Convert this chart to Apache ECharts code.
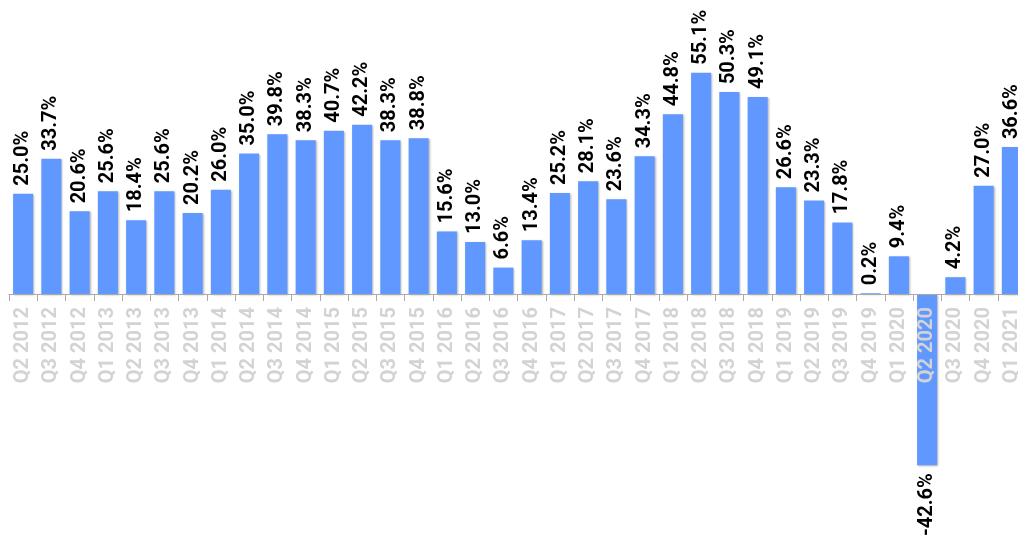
<!DOCTYPE html>
<html><head><meta charset="utf-8">
<script src="https://cdn.jsdelivr.net/npm/echarts@6/dist/echarts.min.js"></script>
<style>html,body{margin:0;padding:0;background:#fff}#c{width:1018px;height:537px}</style>
</head><body><div id="c"></div>
<script>
const categories = ["Q2 2012","Q3 2012","Q4 2012","Q1 2013","Q2 2013","Q3 2013","Q4 2013","Q1 2014","Q2 2014","Q3 2014","Q4 2014","Q1 2015","Q2 2015","Q3 2015","Q4 2015","Q1 2016","Q2 2016","Q3 2016","Q4 2016","Q1 2017","Q2 2017","Q3 2017","Q4 2017","Q1 2018","Q2 2018","Q3 2018","Q4 2018","Q1 2019","Q2 2019","Q3 2019","Q4 2019","Q1 2020","Q2 2020","Q3 2020","Q4 2020","Q1 2021"];
const values = [25.0,33.7,20.6,25.6,18.4,25.6,20.2,26.0,35.0,39.8,38.3,40.7,42.2,38.3,38.8,15.6,13.0,6.6,13.4,25.2,28.1,23.6,34.3,44.8,55.1,50.3,49.1,26.6,23.3,17.8,0.2,9.4,-42.6,4.2,27.0,36.6];

const FONT = 'Roboto';
const labelFont = {fontFamily:FONT, fontWeight:'bold', fontSize:20, color:'#000'};
const data = values.map(v => v < 0 ? {
  value: v,
  label: {position:'bottom', rotate:90, align:'right', verticalAlign:'middle', distance:8}
} : {value: v});

const Y_MIN = -60, Y_MAX = 70, TOP = 13, BOTTOM = 2, H = 537;
const plotH = H - TOP - BOTTOM;
const zeroOffset = -(plotH * (0 - Y_MIN) / (Y_MAX - Y_MIN));

const chart = echarts.init(document.getElementById('c'));
chart.setOption({
  animation:false,
  grid:{left:9, right:-8, top:TOP, bottom:BOTTOM, outerBoundsMode:'none'},
  xAxis:{
    type:'category', data:categories, z:5, position:'bottom', offset:zeroOffset,
    axisLine:{onZero:false, lineStyle:{color:'#aaaaaa', width:1}},
    axisTick:{show:true, length:7, lineStyle:{color:'#aaaaaa'}},
    axisLabel:{show:true, interval:0, rotate:90, margin:13, color:'#d3d3d3', fontFamily:FONT, fontWeight:'bold', fontSize:20}
  },
  yAxis:{type:'value', min:Y_MIN, max:Y_MAX, show:false, splitLine:{show:false}},
  series:[{
    type:'bar', data:data, barCategoryGap:'29%',
    itemStyle:{color:'#6198ff', shadowColor:'rgba(0,0,0,0.3)', shadowBlur:2, shadowOffsetX:1, shadowOffsetY:1},
    label:Object.assign({show:true, position:'top', rotate:90, align:'left', verticalAlign:'middle', distance:8,
      formatter: p => p.value.toFixed(1) + '%'}, labelFont)
  }]
});
</script></body></html>
